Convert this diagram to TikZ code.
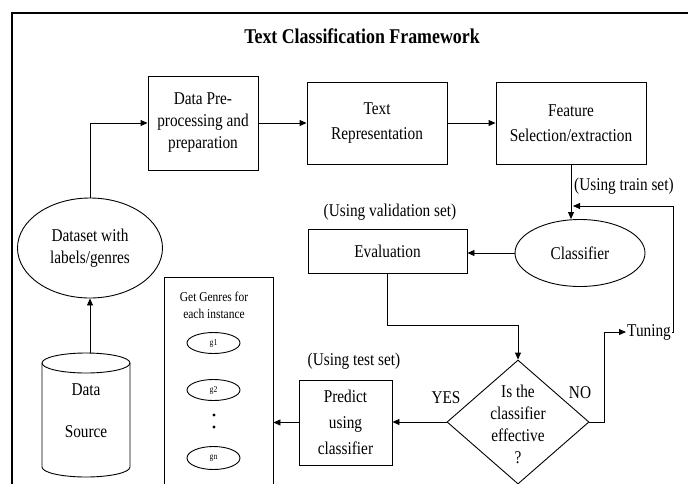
\documentclass[tikz,border=0pt]{standalone}
\usepackage{fontspec}
\setmainfont{Liberation Serif}[FakeStretch=0.85]
\usetikzlibrary{arrows.meta,shapes.geometric,calc}
\newcommand\myfnt{\fontsize{18}{22}\selectfont}
\newcommand\mysmall{\fontsize{13.5}{17}\selectfont}
\newcommand\mytiny{\fontsize{9}{10}\selectfont}
\begin{document}
\begin{tikzpicture}[x=1pt,y=-1pt,
  box/.style={draw, line width=0.9pt, inner sep=0pt, align=center, font=\myfnt},
  oval/.style={draw, ellipse, line width=0.9pt, inner sep=0pt, align=center, font=\myfnt},
  lbl/.style={inner sep=1pt, font=\myfnt},
  arr/.style={-{Triangle[length=7pt,width=6pt]}, line width=0.9pt},
  ln/.style={line width=0.9pt}]
\useasboundingbox (0,0) rectangle (688,483);
\clip (0,0) rectangle (688,483);
\fill[white] (0,0) rectangle (688,483);
% frame
\draw[line width=2.5pt] (12,13) rectangle (730,530);
% title
\node[font=\fontsize{21}{25}\selectfont\bfseries] (title) at (362,36) {Text Classification Framework};
% top row
\node[box, minimum width=110pt, minimum height=94pt] (dp) at (203,123) {Data Pre-\\processing and\\preparation};
\node[box, minimum width=140pt, minimum height=82pt] (tr) at (377,123) {Text\\[3pt]Representation};
\node[box, minimum width=150pt, minimum height=82pt] (fs) at (571,123) {Feature\\[3pt]Selection/extraction};
% dataset
\node[oval, minimum width=145pt, minimum height=100pt] (dsw) at (90,248) {Dataset with\\labels/genres};
% data source cylinder
\node[minimum width=88pt, minimum height=124pt, inner sep=0pt] (ds) at (86,415) {};
\draw[ln] (42,363) -- (42,467) arc[start angle=180, end angle=0, x radius=44, y radius=10] -- (130,363);
\draw[ln] (86,363) ellipse[x radius=44, y radius=10];
\node[lbl] (dst1) at (86,390) {Data};
\node[lbl] (dst2) at (86,432) {Source};
% classifier & evaluation
\node[oval, minimum width=130pt, minimum height=67pt] (cls) at (580,253) {Classifier};
\node[box, minimum width=159pt, minimum height=44pt] (ev) at (387.5,251) {Evaluation};
\node[lbl] (valtxt) at (390,212) {(Using validation set)};
\node[lbl, anchor=west] (traintxt) at (573,186) {(Using train set)};
% diamond
\node[draw, diamond, line width=0.9pt, minimum width=142pt, minimum height=124pt, inner sep=0pt] (dia) at (518,422) {};
\node[align=center, font=\myfnt, inner sep=0pt] (diatxt) at (518,424) {Is the\\classifier\\effective\\?};
\node[lbl] (yes) at (446,398) {YES};
\node[lbl] (no) at (580,393) {NO};
% predict
\node[box, minimum width=93pt, minimum height=85pt] (pr) at (345.5,422.5) {Predict\\[4pt]using\\[4pt]classifier};
\node[lbl] (testtxt) at (354,361) {(Using test set)};
% genres box
\node[draw, line width=0.9pt, minimum width=109pt, minimum height=230pt, inner sep=0pt] (gb) at (218.5,392) {};
\node[align=center, font=\mysmall, inner sep=0pt] (gbtxt) at (214,305) {Get Genres for\\each instance};
\node[oval, minimum width=53pt, minimum height=21pt, font=\mytiny] (g1) at (213.5,343) {g1};
\node[oval, minimum width=53pt, minimum height=21pt, font=\mytiny] (g2) at (213.5,390) {g2};
\node[oval, minimum width=53pt, minimum height=23pt, font=\mytiny] (gn) at (213.5,458) {gn};
\fill (214,415) circle[radius=1.6];
\fill (214,427) circle[radius=1.6];
% tuning
\node[lbl, anchor=west] (tun) at (626,332) {Tuning};
\coordinate (tr1) at (673,206);
\coordinate (tr2) at (573,206);
\coordinate (evb) at (387.5,325);
% connectors
\draw[arr] (dsw.south |- ds.north) -- (dsw.south);
\draw[arr] (dsw.north) |- (dp.west);
\draw[arr] (dp.east) -- (tr.west);
\draw[arr] (tr.east) -- (fs.west);
\draw[arr] (fs.south) -- (fs.south |- cls.north);
\draw[arr] (cls.west) -- (cls.west -| ev.east);
\draw[arr] (ev.south) -- (evb) -| (dia.north);
\draw[arr] (dia.west) -- (dia.west -| pr.east);
\draw[arr] (pr.west) -- (pr.west -| gb.east);
\draw[arr] (dia.east) -- ++(15,0) |- (tun.west);
\draw[arr] (tun.east) -| (tr1) -- (tr2);
\end{tikzpicture}
\end{document}
